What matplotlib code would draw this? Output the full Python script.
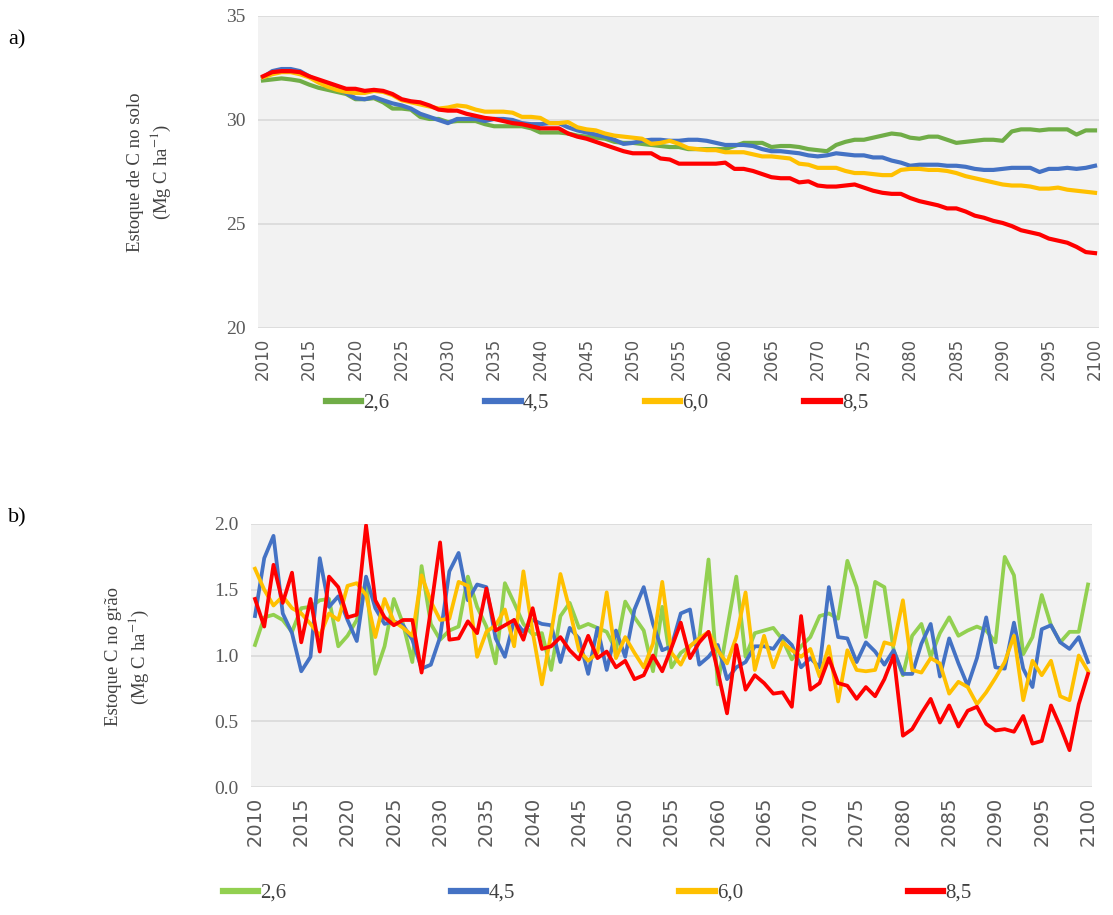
import numpy as np
import matplotlib
matplotlib.use("Agg")
import matplotlib.pyplot as plt

plt.rcParams["mathtext.fontset"] = "stix"

# ==============================================================================
# DATA
# ==============================================================================

years = np.arange(2010, 2101)
scenarios = ["2,6", "4,5", "6,0", "8,5"]

# soil C stock (Mg C ha-1)
soil_26 = [31.9, 31.95, 32.0, 31.95, 31.88, 31.7, 31.55, 31.45, 31.35, 31.25,
           31.0, 31.0, 31.05, 30.85, 30.55, 30.55, 30.5, 30.15, 30.05, 30.05,
           29.9, 29.95, 29.95, 29.95, 29.8, 29.7, 29.7, 29.7, 29.7, 29.6,
           29.4, 29.4, 29.4, 29.35, 29.25, 29.2, 29.15, 29.1, 28.95, 28.9,
           28.9, 28.85, 28.8, 28.75, 28.7, 28.7, 28.6, 28.6, 28.6, 28.6,
           28.6, 28.75, 28.9, 28.9, 28.9, 28.7, 28.75, 28.75, 28.7, 28.6,
           28.55, 28.5, 28.8, 28.95, 29.05, 29.05, 29.15, 29.25, 29.35, 29.3,
           29.15, 29.1, 29.2, 29.2, 29.05, 28.9, 28.95, 29.0, 29.05, 29.05,
           29.0, 29.45, 29.55, 29.55, 29.5, 29.55, 29.55, 29.55, 29.3, 29.5,
           29.5]
soil_45 = [32.05, 32.35, 32.45, 32.45, 32.35, 32.1, 31.85, 31.7, 31.6, 31.3,
           31.05, 31.0, 31.1, 30.95, 30.8, 30.7, 30.55, 30.3, 30.15, 30.0,
           29.85, 30.05, 30.05, 30.05, 29.95, 30.05, 30.05, 30.0, 29.85, 29.8,
           29.8, 29.85, 29.85, 29.65, 29.5, 29.4, 29.3, 29.2, 29.05, 28.85,
           28.9, 29.0, 29.05, 29.05, 29.0, 29.0, 29.05, 29.05, 29.0, 28.9,
           28.8, 28.8, 28.8, 28.75, 28.6, 28.5, 28.5, 28.45, 28.4, 28.3,
           28.25, 28.3, 28.4, 28.35, 28.3, 28.3, 28.2, 28.2, 28.05, 27.95,
           27.8, 27.85, 27.85, 27.85, 27.8, 27.8, 27.75, 27.65, 27.6, 27.6,
           27.65, 27.7, 27.7, 27.7, 27.5, 27.65, 27.65, 27.7, 27.65, 27.7,
           27.8]
soil_60 = [32.05, 32.2, 32.3, 32.3, 32.2, 32.05, 31.8, 31.6, 31.45, 31.35,
           31.3, 31.3, 31.4, 31.35, 31.2, 30.95, 30.85, 30.75, 30.65, 30.55,
           30.6, 30.7, 30.65, 30.5, 30.4, 30.4, 30.4, 30.35, 30.15, 30.15,
           30.1, 29.85, 29.85, 29.9, 29.65, 29.55, 29.5, 29.35, 29.25, 29.2,
           29.15, 29.1, 28.85, 28.9, 29.0, 28.85, 28.65, 28.6, 28.55, 28.55,
           28.45, 28.45, 28.45, 28.35, 28.25, 28.25, 28.2, 28.15, 27.9, 27.85,
           27.7, 27.7, 27.7, 27.55, 27.45, 27.45, 27.4, 27.35, 27.35, 27.6,
           27.65, 27.65, 27.6, 27.6, 27.55, 27.45, 27.3, 27.2, 27.1, 27.0,
           26.9, 26.85, 26.85, 26.8, 26.7, 26.7, 26.75, 26.65, 26.6, 26.55,
           26.5]
soil_85 = [32.1, 32.3, 32.35, 32.35, 32.3, 32.1, 31.95, 31.8, 31.65, 31.5,
           31.5, 31.4, 31.45, 31.4, 31.25, 31.0, 30.9, 30.85, 30.7, 30.5,
           30.45, 30.45, 30.3, 30.2, 30.1, 30.05, 29.95, 29.85, 29.8, 29.7,
           29.6, 29.6, 29.6, 29.35, 29.2, 29.1, 28.95, 28.8, 28.65, 28.5,
           28.4, 28.4, 28.4, 28.15, 28.1, 27.9, 27.9, 27.9, 27.9, 27.9,
           27.95, 27.65, 27.65, 27.55, 27.4, 27.25, 27.2, 27.2, 27.0, 27.05,
           26.85, 26.8, 26.8, 26.85, 26.9, 26.75, 26.6, 26.5, 26.45, 26.45,
           26.25, 26.1, 26.0, 25.9, 25.75, 25.75, 25.6, 25.4, 25.3, 25.15,
           25.05, 24.9, 24.7, 24.6, 24.5, 24.3, 24.2, 24.1, 23.9, 23.65,
           23.6]

# grain C stock (Mg C ha-1)
grain_26 = [1.08, 1.29, 1.31, 1.27, 1.18, 1.36, 1.37, 1.42, 1.43, 1.07,
            1.15, 1.27, 1.57, 0.86, 1.07, 1.43, 1.24, 0.95, 1.68, 1.24,
            1.12, 1.19, 1.22, 1.60, 1.37, 1.22, 0.94, 1.55, 1.40, 1.24,
            1.16, 1.17, 0.89, 1.30, 1.40, 1.21, 1.24, 1.21, 1.18, 1.04,
            1.41, 1.29, 1.19, 0.88, 1.37, 0.91, 1.02, 1.07, 1.13, 1.73,
            0.78, 1.20, 1.60, 0.99, 1.17, 1.19, 1.21, 1.12, 0.97, 1.07,
            1.14, 1.30, 1.32, 1.28, 1.72, 1.52, 1.14, 1.56, 1.52, 1.04,
            0.85, 1.15, 1.24, 0.99, 1.17, 1.29, 1.15, 1.19, 1.22, 1.19,
            1.10, 1.75, 1.61, 1.01, 1.14, 1.46, 1.23, 1.10, 1.18, 1.18,
            1.54]
grain_45 = [1.30, 1.74, 1.91, 1.32, 1.17, 0.88, 0.99, 1.74, 1.37, 1.45,
            1.27, 1.11, 1.60, 1.36, 1.24, 1.26, 1.23, 1.12, 0.90, 0.93,
            1.14, 1.64, 1.78, 1.42, 1.54, 1.52, 1.13, 0.99, 1.27, 1.18,
            1.27, 1.24, 1.23, 0.95, 1.21, 1.13, 0.86, 1.21, 0.89, 1.19,
            0.99, 1.35, 1.52, 1.24, 1.04, 1.07, 1.32, 1.35, 0.93, 0.99,
            1.08, 0.82, 0.91, 0.95, 1.07, 1.07, 1.05, 1.15, 1.08, 0.91,
            0.98, 0.91, 1.52, 1.14, 1.13, 0.95, 1.10, 1.03, 0.93, 1.04,
            0.86, 0.86, 1.09, 1.24, 0.84, 1.13, 0.94, 0.77, 0.98, 1.29,
            0.91, 0.90, 1.25, 0.90, 0.76, 1.20, 1.23, 1.10, 1.05, 1.14,
            0.95]
grain_60 = [1.66, 1.50, 1.38, 1.45, 1.36, 1.32, 1.24, 1.15, 1.32, 1.27,
            1.53, 1.55, 1.46, 1.14, 1.43, 1.26, 1.21, 1.15, 1.61, 1.41,
            1.27, 1.28, 1.56, 1.53, 0.99, 1.18, 1.23, 1.35, 1.07, 1.64,
            1.18, 0.78, 1.17, 1.62, 1.35, 1.04, 0.96, 1.02, 1.48, 0.98,
            1.14, 1.02, 0.91, 1.09, 1.56, 1.02, 0.93, 1.07, 1.13, 1.18,
            1.04, 0.94, 1.14, 1.48, 0.89, 1.15, 0.91, 1.10, 1.04, 0.99,
            1.05, 0.84, 1.07, 0.65, 1.04, 0.89, 0.88, 0.89, 1.10, 1.08,
            1.42, 0.89, 0.87, 0.98, 0.94, 0.71, 0.80, 0.76, 0.63, 0.72,
            0.83, 0.95, 1.15, 0.66, 0.96, 0.85, 0.96, 0.69, 0.66, 1.00,
            0.88]
grain_85 = [1.43, 1.22, 1.69, 1.40, 1.63, 1.10, 1.43, 1.03, 1.60, 1.52,
            1.29, 1.31, 1.99, 1.42, 1.29, 1.23, 1.27, 1.27, 0.87, 1.35,
            1.86, 1.12, 1.13, 1.26, 1.17, 1.51, 1.19, 1.23, 1.27, 1.12,
            1.36, 1.05, 1.07, 1.14, 1.04, 0.97, 1.15, 0.98, 1.03, 0.91,
            0.96, 0.82, 0.85, 1.00, 0.88, 1.06, 1.25, 0.98, 1.10, 1.18,
            0.88, 0.56, 1.08, 0.74, 0.85, 0.79, 0.71, 0.72, 0.61, 1.30,
            0.74, 0.79, 0.98, 0.79, 0.77, 0.67, 0.76, 0.69, 0.82, 1.00,
            0.39, 0.44, 0.56, 0.67, 0.49, 0.62, 0.46, 0.58, 0.61, 0.48,
            0.43, 0.44, 0.42, 0.54, 0.33, 0.35, 0.62, 0.46, 0.28, 0.63,
            0.86]

soil_series = [soil_26, soil_45, soil_60, soil_85]
grain_series = [grain_26, grain_45, grain_60, grain_85]

soil_colors = ["#70AD47", "#4472C4", "#FFC000", "#FF0000"]
grain_colors = ["#92D050", "#4472C4", "#FFC000", "#FF0000"]

# ==============================================================================
# FIGURE
# ==============================================================================

W, H = 1113, 915
fig = plt.figure(figsize=(W / 100, H / 100), dpi=100)

SERIF = ["Liberation Serif", "DejaVu Serif"]
TICK_C = "#595959"
TEXT_C = "#404040"


def px_axes(l, t, r, b):
    return fig.add_axes([l / W, 1 - b / H, (r - l) / W, (b - t) / H])


def style_axes(ax, xfs):
    ax.set_facecolor("#F2F2F2")
    for s in ax.spines.values():
        s.set_visible(False)
    ax.grid(axis="y", color="#D9D9D9", linewidth=1.2)
    ax.set_axisbelow(True)
    ax.set_xticks(np.arange(2010, 2101, 5))
    ax.tick_params(axis="both", length=0)
    ax.tick_params(axis="x", pad=7, labelsize=xfs, labelcolor=TICK_C, rotation=90)
    ax.tick_params(axis="y", pad=9, labelcolor=TICK_C)
    for lab in ax.get_yticklabels():
        lab.set_family(SERIF)
        lab.set_fontsize(14)


# ---- panel a) ----
ax1 = px_axes(258, 16, 1099, 328)
for vals, c in zip(soil_series, soil_colors):
    ax1.plot(years, vals, color=c, linewidth=3.0, solid_joinstyle="round")
ax1.set_xlim(2009.46, 2100.43)
ax1.set_ylim(20, 35)
ax1.set_yticks([20, 25, 30, 35])
style_axes(ax1, 12)

fig.text(150 / W, 1 - 172 / H, "Estoque de C no solo\n(Mg C ha$^{-1}$)",
         rotation=90, ha="center", va="center", family=SERIF, fontsize=13.5,
         color=TEXT_C, linespacing=1.3)

h1 = [plt.Line2D([], [], color=c, linewidth=4.5) for c in soil_colors]
fig.legend(h1, scenarios, loc="center", bbox_to_anchor=(597 / W, 1 - 403 / H),
           ncol=4, frameon=False, handlelength=1.7, handletextpad=0.1,
           columnspacing=4.6, prop={"family": SERIF, "size": 15},
           labelcolor=TEXT_C)

# ---- panel b) ----
ax2 = px_axes(251, 524, 1092, 787)
for vals, c in zip(grain_series, grain_colors):
    ax2.plot(years, vals, color=c, linewidth=2.7, solid_joinstyle="round")
ax2.set_xlim(2009.57, 2100.43)
ax2.set_ylim(0, 2.0)
ax2.set_yticks([0.0, 0.5, 1.0, 1.5, 2.0])
ax2.set_yticklabels(["0.0", "0.5", "1.0", "1.5", "2.0"])
style_axes(ax2, 14)

fig.text(128 / W, 1 - 657 / H, "Estoque C no grão\n(Mg C ha$^{-1}$)",
         rotation=90, ha="center", va="center", family=SERIF, fontsize=13.5,
         color=TEXT_C, linespacing=1.3)

h2 = [plt.Line2D([], [], color=c, linewidth=4.5) for c in grain_colors]
fig.legend(h2, scenarios, loc="center", bbox_to_anchor=(597 / W, 1 - 893 / H),
           ncol=4, frameon=False, handlelength=1.7, handletextpad=0.1,
           columnspacing=7.9, prop={"family": SERIF, "size": 15},
           labelcolor=TEXT_C)

# panel letters
fig.text(8 / W, 1 - 40 / H, "a)", family=SERIF, fontsize=16, va="center", ha="left")
fig.text(8 / W, 1 - 518 / H, "b)", family=SERIF, fontsize=16, va="center", ha="left")

fig.savefig("out.png", dpi=100)
plt.close(fig)
